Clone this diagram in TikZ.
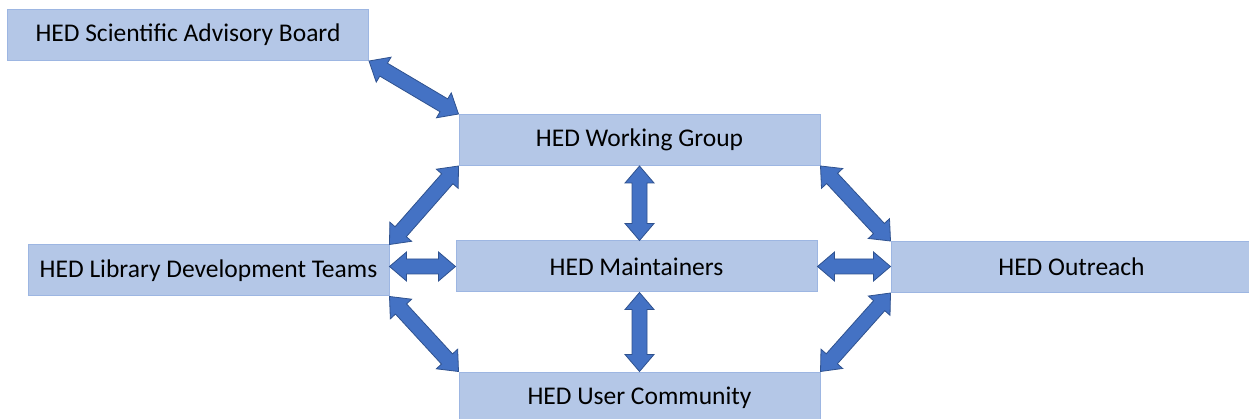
\documentclass[tikz,border=0pt]{standalone}
\usepackage{fontspec}
\setmainfont{Carlito}
\usetikzlibrary{calc}
\definecolor{boxfill}{HTML}{B4C7E7}
\definecolor{boxline}{HTML}{9DB6E2}
\definecolor{arrfill}{HTML}{4472C4}
\definecolor{arrline}{HTML}{2F528F}
\tikzset{
  box/.style={rectangle, fill=boxfill, draw=boxline, line width=1pt,
    minimum width=361pt, minimum height=51pt, inner sep=0pt,
    font=\fontsize{25.5}{28}\selectfont, text=black},
  blockarr/.style={fill=arrfill, draw=arrline, line width=0.8pt, line join=miter}
}
\newcommand{\dblarr}[2]{%
  \draw[blockarr] let \p1=(#1), \p2=(#2), \n2={atan2(\y2-\y1,\x2-\x1)} in
    (#1) -- ($(#1)+(\n2:17pt)+(\n2+90:14.5pt)$) -- ($(#1)+(\n2:17pt)+(\n2+90:7.5pt)$)
    -- ($(#2)+(\n2:-17pt)+(\n2+90:7.5pt)$) -- ($(#2)+(\n2:-17pt)+(\n2+90:14.5pt)$)
    -- (#2) -- ($(#2)+(\n2:-17pt)+(\n2-90:14.5pt)$) -- ($(#2)+(\n2:-17pt)+(\n2-90:7.5pt)$)
    -- ($(#1)+(\n2:17pt)+(\n2-90:7.5pt)$) -- ($(#1)+(\n2:17pt)+(\n2-90:14.5pt)$) -- cycle;}
\begin{document}
\begin{tikzpicture}[x=1pt,y=-1pt]
\useasboundingbox (0,0) rectangle (1249,419);
\begin{scope}
\clip (0,0) rectangle (1249,419);
\node[box] (sab) at (188,35) {HED Scientific Advisory Board};
\node[box] (wg) at (639.5,140) {HED Working Group};
\node[box] (ldt) at (208.5,270.5) {HED Library Development Teams};
\node[box] (mnt) at (636.5,266.5) {HED Maintainers};
\node[box] (out) at (1071.5,267) {HED Outreach};
\node[box] (uc) at (639.5,397.5) {HED User Community};
\end{scope}
\coordinate (h1) at (ldt.east |- mnt.west);
\coordinate (h2) at (out.west |- mnt.east);
\coordinate (v1) at (wg.south |- mnt.north);
\coordinate (v2) at (uc.north |- mnt.south);
\dblarr{sab.south east}{wg.north west}
\dblarr{wg.south west}{ldt.north east}
\dblarr{wg.south east}{out.north west}
\dblarr{h1}{mnt.west}
\dblarr{mnt.east}{h2}
\dblarr{wg.south}{v1}
\dblarr{v2}{uc.north}
\dblarr{ldt.south east}{uc.north west}
\dblarr{out.south west}{uc.north east}
\end{tikzpicture}
\end{document}
